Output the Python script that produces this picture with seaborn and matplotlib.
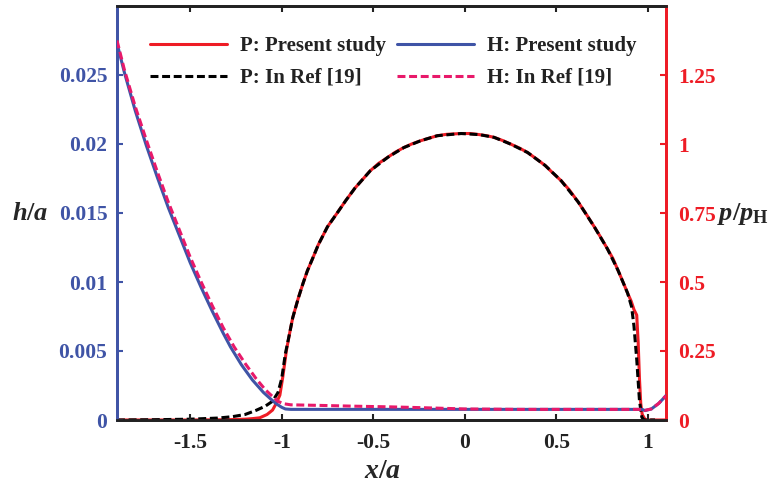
import numpy as np
import pandas as pd
import matplotlib
matplotlib.use("Agg")
import matplotlib.pyplot as plt
import seaborn as sns

# ---------------- data ----------------
# Pressure, present study (p/pH)
p_present_x = [-1.9, -1.5, -1.3, -1.2, -1.16, -1.12, -1.08, -1.05, -1.03, -1.01, -0.994,
               -0.974, -0.955, -0.94, -0.91, -0.884, -0.86, -0.828, -0.80, -0.75, -0.70,
               -0.65, -0.60, -0.56, -0.516, -0.47, -0.42, -0.38, -0.333, -0.29, -0.24,
               -0.20, -0.15, -0.10, -0.02, 0.03, 0.08, 0.12, 0.161, 0.21, 0.25, 0.30,
               0.344, 0.39, 0.44, 0.48, 0.527, 0.57, 0.62, 0.665, 0.71, 0.745, 0.78,
               0.81, 0.838, 0.865, 0.89, 0.91, 0.925, 0.94, 0.948, 0.955, 0.962, 0.97,
               0.985, 1.0, 1.1]
p_present_y = [0.0, 0.0, 0.001, 0.003, 0.005, 0.008, 0.02, 0.036, 0.06, 0.09, 0.156,
               0.253, 0.32, 0.37, 0.44, 0.494, 0.54, 0.59, 0.635, 0.70, 0.747,
               0.795, 0.84, 0.87, 0.903, 0.93, 0.952, 0.97, 0.987, 1.0, 1.012,
               1.02, 1.03, 1.035, 1.038, 1.038, 1.034, 1.03, 1.024, 1.012, 1.0, 0.985,
               0.969, 0.947, 0.922, 0.896, 0.867, 0.835, 0.79, 0.745, 0.698, 0.66, 0.62,
               0.585, 0.542, 0.50, 0.46, 0.43, 0.40, 0.38, 0.28, 0.15, 0.06, 0.02,
               0.003, 0.0, 0.0]

# Pressure, Ref [19]
p_ref_x = [-1.9, -1.7, -1.5, -1.35, -1.27, -1.2, -1.14, -1.09, -1.05, -1.02, -1.0, -0.98,
           -0.955, -0.94, -0.91, -0.884, -0.86, -0.828, -0.80, -0.75, -0.70, -0.65, -0.60,
           -0.516, -0.42, -0.333, -0.24, -0.15, -0.02, 0.08, 0.161, 0.25, 0.344, 0.44,
           0.527, 0.62, 0.71, 0.78, 0.838, 0.89, 0.912, 0.925, 0.94, 0.955, 0.968, 0.98,
           1.04]
p_ref_y = [0.0, 0.001, 0.003, 0.007, 0.012, 0.02, 0.035, 0.05, 0.068, 0.1, 0.15, 0.24,
           0.32, 0.37, 0.44, 0.494, 0.54, 0.59, 0.635, 0.70, 0.747, 0.795, 0.84,
           0.903, 0.952, 0.987, 1.012, 1.03, 1.038, 1.034, 1.024, 1.0, 0.969, 0.922,
           0.867, 0.79, 0.698, 0.62, 0.542, 0.46, 0.41, 0.34, 0.22, 0.07, 0.01, 0.0,
           0.0]

# Film thickness, present study (h/a)
h_present_x = [-1.9, -1.86, -1.80, -1.74, -1.68, -1.62, -1.56, -1.50, -1.44, -1.38,
               -1.32, -1.28, -1.22, -1.16, -1.10, -1.06, -1.03, -1.0, -0.98, -0.95,
               -0.5, 0.0, 0.5, 0.97, 0.985, 1.02, 1.06, 1.1]
h_present_y = [0.0273, 0.0252, 0.0224, 0.0199, 0.0176, 0.0154, 0.0134, 0.0114, 0.0096,
               0.0079, 0.0063, 0.0053, 0.0040, 0.0029, 0.0020, 0.00152, 0.00118, 0.00092,
               0.0008, 0.00077, 0.00077, 0.00077, 0.00077, 0.00077, 0.00068, 0.0008,
               0.0012, 0.00176]

# Film thickness, Ref [19]
h_ref_x = [-1.9, -1.86, -1.80, -1.74, -1.68, -1.62, -1.56, -1.50, -1.44, -1.38, -1.32,
           -1.26, -1.20, -1.14, -1.09, -1.05, -1.02, -0.99, -0.95, -0.8, -0.6, -0.4,
           -0.2, 0.0, 0.3, 0.97, 0.985, 1.02, 1.06, 1.1]
h_ref_y = [0.0275, 0.0254, 0.0227, 0.0203, 0.0180, 0.0158, 0.0138, 0.0118, 0.0100,
           0.0083, 0.0067, 0.0053, 0.0041, 0.0030, 0.0022, 0.0017, 0.00135, 0.00118,
           0.0011, 0.00106, 0.0010, 0.00095, 0.00088, 0.0008, 0.00077, 0.00077, 0.0007,
           0.0008, 0.0012, 0.00176]

x_ticks = [-1.5, -1, -0.5, 0, 0.5, 1]
x_ticklabels = ["-1.5", "-1", "-0.5", "0", "0.5", "1"]
h_ticks = [0, 0.005, 0.01, 0.015, 0.02, 0.025]
h_ticklabels = ["0", "0.005", "0.01", "0.015", "0.02", "0.025"]
p_ticks = [0, 0.25, 0.5, 0.75, 1, 1.25]
p_ticklabels = ["0", "0.25", "0.5", "0.75", "1", "1.25"]

labels = ["P: Present study", "P: In Ref [19]", "H: Present study", "H: In Ref [19]"]

# ---------------- style ----------------
sns.set_theme(style="white")
plt.rcParams["font.family"] = ["Liberation Serif", "DejaVu Serif"]
plt.rcParams["font.weight"] = "bold"
plt.rcParams["axes.unicode_minus"] = False
plt.rcParams["mathtext.fontset"] = "custom"
plt.rcParams["mathtext.it"] = "Liberation Serif:italic:bold"
plt.rcParams["mathtext.rm"] = "Liberation Serif:bold"
plt.rcParams["mathtext.bf"] = "Liberation Serif:bold"

RED = "#ee1c25"
BLUE = "#3f54a6"
PINK = "#e8196a"
BLACK = "#000000"
DARK = "#222222"

fig = plt.figure(figsize=(7.73, 4.96), dpi=100)
ax = fig.add_axes([117 / 773, 76 / 496, 549 / 773, 414 / 496])
ax2 = ax.twinx()

lw = 2.2
dash = (0, (2.6, 1.2))

# h curves on left axis
sns.lineplot(x=h_present_x, y=h_present_y, ax=ax, color=BLUE, linewidth=lw,
             label=labels[2], sort=False, zorder=3)
sns.lineplot(x=h_ref_x, y=h_ref_y, ax=ax, color=PINK, linewidth=lw, linestyle=dash,
             label=labels[3], sort=False, zorder=4)

# p curves on right axis
sns.lineplot(x=p_present_x, y=p_present_y, ax=ax2, color=RED, linewidth=lw,
             label=labels[0], sort=False, zorder=3)
sns.lineplot(x=p_ref_x, y=p_ref_y, ax=ax2, color=BLACK, linewidth=lw, linestyle=dash,
             label=labels[1], sort=False, zorder=4)

ax.set_zorder(ax2.get_zorder() + 1)
ax.patch.set_visible(False)

for a in (ax, ax2):
    if a.get_legend() is not None:
        a.get_legend().remove()

ax.set_xlim(-1.9, 1.1)
ax.set_ylim(0, 0.03)
ax2.set_ylim(0, 1.5)

ax.set_xticks(x_ticks)
ax.set_xticklabels(x_ticklabels)
ax.set_yticks(h_ticks)
ax.set_yticklabels(h_ticklabels)
ax2.set_yticks(p_ticks)
ax2.set_yticklabels(p_ticklabels)

ax.set_xlabel("")
ax.set_ylabel("")
ax2.set_ylabel("")

fs = 15.5
ax.tick_params(axis="x", direction="in", length=4, width=1.5, color=DARK,
               top=True, bottom=True, labelsize=fs, labelcolor=DARK, pad=9.5)
ax.tick_params(axis="y", direction="in", length=4, width=1.5, color=BLUE,
               left=True, right=False, labelsize=fs, labelcolor=BLUE, pad=7)
ax2.tick_params(axis="y", direction="in", length=4, width=1.5, color=RED,
                right=True, left=False, labelsize=fs, labelcolor=RED, pad=9)
for t in ax.get_xticklabels() + ax.get_yticklabels() + ax2.get_yticklabels():
    t.set_fontweight("bold")

for a in (ax, ax2):
    for side in ("top", "bottom"):
        a.spines[side].set_color(DARK)
        a.spines[side].set_linewidth(2.0)
    a.spines["left"].set_color(BLUE)
    a.spines["left"].set_linewidth(2.0)
    a.spines["right"].set_color(RED)
    a.spines["right"].set_linewidth(2.0)
    a.grid(False)

# axis labels
fig.text(30 / 773, 1 - 214 / 496, r"$h/a$", ha="center", va="center", fontsize=19)
fig.text(717 / 773, 1 - 214 / 496, r"$p/p_{\mathrm{H}}$", ha="left", va="center", fontsize=19)
fig.text(383 / 773, 1 - 471 / 496, r"$x/a$", ha="center", va="center", fontsize=20)

# legend
h_handles, h_labels = ax.get_legend_handles_labels()
p_handles, p_labels = ax2.get_legend_handles_labels()
handles = p_handles + h_handles
labs = p_labels + h_labels
leg = ax.legend(handles, labs, ncol=2, frameon=False, loc="upper left",
                bbox_to_anchor=(0.06, 0.928), borderpad=0, borderaxespad=0,
                handlelength=3.7, handletextpad=0.62, columnspacing=0.52,
                labelspacing=0.58,
                prop={"family": "Liberation Serif", "weight": "bold", "size": 15})
for t in leg.get_texts():
    t.set_color(DARK)

fig.savefig("out.png", dpi=100)
